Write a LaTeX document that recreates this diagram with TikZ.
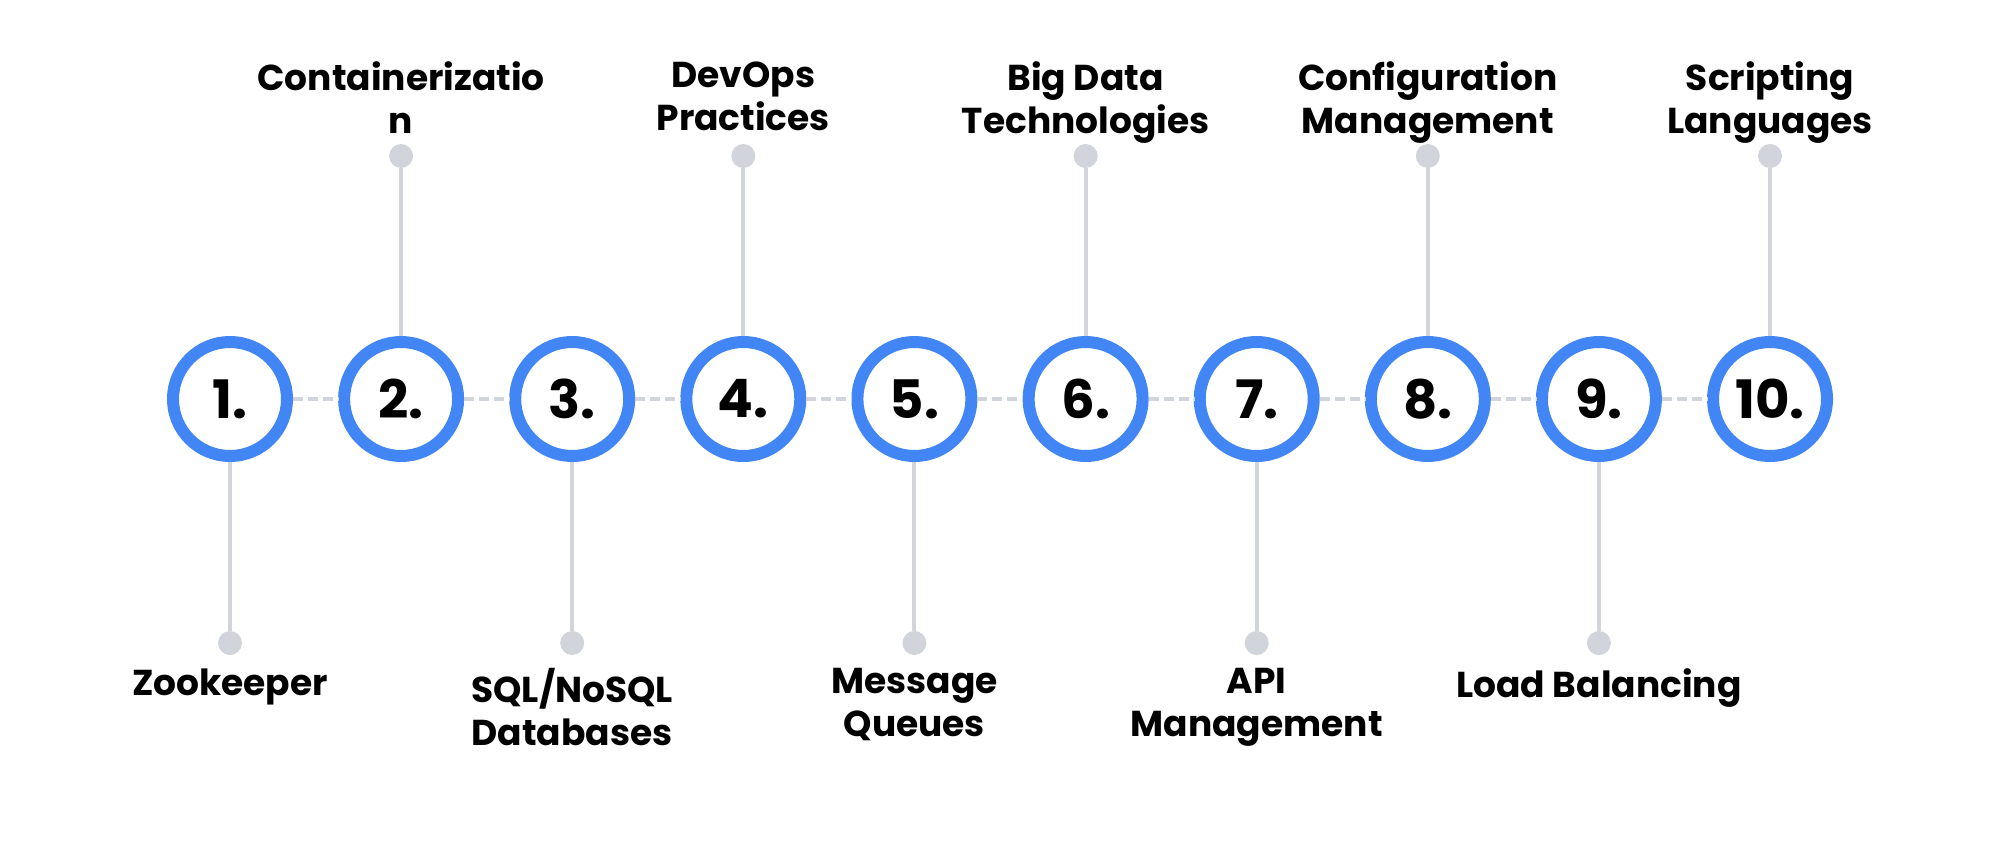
\documentclass[tikz,border=0pt]{standalone}
\usepackage{fontspec}
\setmainfont{Poppins}
\definecolor{RingClr}{RGB}{66,133,244}
\definecolor{StemClr}{RGB}{209,213,219}

\tikzset{
  ring/.style={circle,draw=RingClr,fill=white,line width=6pt,minimum size=57pt,inner sep=0pt,
    font=\bfseries\fontsize{26.5}{30}\selectfont},
  dot/.style={circle,fill=StemClr,minimum size=12pt,inner sep=0pt},
  stem/.style={StemClr,line width=2pt},
  link/.style={StemClr,line width=2pt,dash pattern=on 5pt off 2.5pt},
  lbl/.style={align=center,inner sep=0pt,anchor=north,font=\bfseries\fontsize{18}{21.5}\selectfont}
}

\begin{document}
\begin{tikzpicture}[x=0.5pt,y=0.5pt]
\useasboundingbox (0,0) rectangle (2000,848);

\node[ring] (c1) at (230,449) {1.};
\node[ring] (c2) at (401.1,449) {2.};
\node[ring] (c3) at (572.2,449) {3.};
\node[ring] (c4) at (743.3,449) {4.};
\node[ring] (c5) at (914.4,449) {5.};
\node[ring] (c6) at (1085.6,449) {6.};
\node[ring] (c7) at (1256.7,449) {7.};
\node[ring] (c8) at (1427.8,449) {8.};
\node[ring] (c9) at (1598.9,449) {9.};
\node[ring] (c10) at (1770,449) {10.};

\draw[link] (c1) -- (c2) (c2) -- (c3) (c3) -- (c4) (c4) -- (c5) (c5) -- (c6)
  (c6) -- (c7) (c7) -- (c8) (c8) -- (c9) (c9) -- (c10);

\node[dot] (d1) at (230,205) {};
\node[dot] (d2) at (401.1,692) {};
\node[dot] (d3) at (572.2,205) {};
\node[dot] (d4) at (743.3,692) {};
\node[dot] (d5) at (914.4,205) {};
\node[dot] (d6) at (1085.6,692) {};
\node[dot] (d7) at (1256.7,205) {};
\node[dot] (d8) at (1427.8,692) {};
\node[dot] (d9) at (1598.9,205) {};
\node[dot] (d10) at (1770,692) {};

\draw[stem] (c1) -- (d1) (c2) -- (d2) (c3) -- (d3) (c4) -- (d4) (c5) -- (d5)
  (c6) -- (d6) (c7) -- (d7) (c8) -- (d8) (c9) -- (d9) (c10) -- (d10);

\node[lbl] (l1) at (230,180) {Zookeeper};
\node[lbl] (l2) at (401.1,787) {Containerizatio\\n};
\node[lbl] (l3) at (572.2,180) {SQL/NoSQL\\Databases};
\node[lbl] (l4) at (743.3,787) {DevOps\\Practices};
\node[lbl] (l5) at (914.4,180) {Message\\Queues};
\node[lbl] (l6) at (1085.6,787) {Big Data\\Technologies};
\node[lbl] (l7) at (1256.7,180) {API\\Management};
\node[lbl] (l8) at (1427.8,787) {Configuration\\Management};
\node[lbl] (l9) at (1598.9,180) {Load Balancing};
\node[lbl] (l10) at (1770,787) {Scripting\\Languages};

\end{tikzpicture}
\end{document}
